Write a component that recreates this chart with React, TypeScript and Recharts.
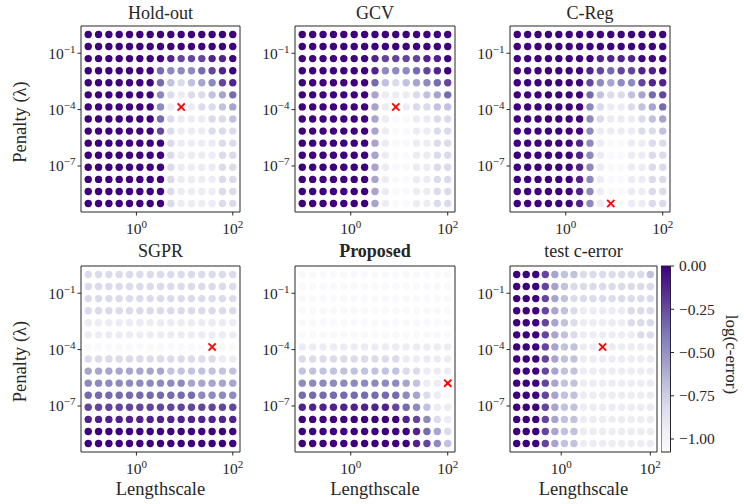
import React from "react";
import { ScatterChart, Scatter, XAxis, YAxis, ReferenceArea, ComposedChart } from "recharts";

// ---------- data ----------
const LENGTHSCALES = [0.1, 0.1638, 0.2683, 0.4394, 0.7197, 1.179, 1.931, 3.162, 5.179, 8.483, 13.89, 22.76, 37.28, 61.05, 100];
// top row first (largest penalty)
const PENALTIES = [1, 0.2276, 0.05179, 0.01179, 2.683e-3, 6.105e-4, 1.389e-4, 3.162e-5, 7.197e-6, 1.638e-6, 3.728e-7, 8.483e-8, 1.931e-8, 4.394e-9, 1e-9];
const X_TICKS = [1, 100];
const Y_TICKS = [1e-1, 1e-4, 1e-7];
const CBAR_TICKS = [0, -0.25, -0.5, -0.75, -1];
const X_DOMAIN = [0.0708, 141.3];
const Y_DOMAIN = [3.548e-10, 2.818];
const VMIN = -1.075;
const VMAX = 0;

// intensity level per cell (0 = lightest .. 9 = darkest), rows top->bottom, cols left->right
const HOLDOUT_LEVELS = [
  "999999999999999",
  "999999999999999",
  "999999998777889",
  "999999965556789",
  "999999963234578",
  "999999952122346",
  "999999951112234",
  "999999962111223",
  "999999972111222",
  "999999992111122",
  "999999992111122",
  "999999992111122",
  "999999992111122",
  "999999992111122",
  "999999992111122",
];
const GCV_LEVELS = [
  "999999999999999",
  "999999999999999",
  "999999987777889",
  "999999985556789",
  "999999963234567",
  "999999941112346",
  "999999941012233",
  "999999941001122",
  "999999941001122",
  "999999941001122",
  "999999941001122",
  "999999941001122",
  "999999941001122",
  "999999941001122",
  "999999941001122",
];
const CREG_LEVELS = [
  "999999999999999",
  "999999999999999",
  "999999998888999",
  "999999987677889",
  "999999975455788",
  "999999963223467",
  "999999952112346",
  "999999952111234",
  "999999951111223",
  "999999851001122",
  "999999851001122",
  "999999851001122",
  "999999851001122",
  "999999851001122",
  "999999851001122",
];
const SGPR_LEVELS = [
  "222222222222222",
  "222222222222222",
  "222222222222222",
  "222222222222222",
  "111111111111111",
  "111111111111111",
  "000000000000000",
  "222222222222211",
  "444444443333333",
  "555555555544444",
  "666666666665555",
  "777777777777777",
  "888888888888888",
  "999999999999999",
  "999999999999999",
];
const PROPOSED_LEVELS = [
  "000000000000000",
  "000000000000000",
  "000000000000000",
  "000000000000000",
  "000000000000000",
  "000000000000000",
  "111111111111111",
  "222222222211111",
  "333333333322111",
  "555555555543111",
  "666666666654210",
  "888888888765311",
  "999999999987521",
  "999999999998642",
  "999999999998753",
];
const TEST_LEVELS = [
  "999743322222223",
  "999743222222222",
  "999743222222222",
  "999743211111222",
  "999743211111222",
  "999743211111122",
  "999743311111111",
  "999743311111111",
  "999743311111111",
  "999743311111111",
  "999743311111111",
  "999743311111111",
  "999743311111111",
  "999743311111111",
  "999743311111111",
];

const HOLDOUT_BEST = [{ x: 8.483, y: 1.389e-4 }];
const GCV_BEST = [{ x: 8.483, y: 1.389e-4 }];
const CREG_BEST = [{ x: 8.483, y: 1e-9 }];
const SGPR_BEST = [{ x: 37.28, y: 1.389e-4 }];
const PROPOSED_BEST = [{ x: 100, y: 1.638e-6 }];
const TEST_BEST = [{ x: 8.483, y: 1.389e-4 }];

// ---------- styling helpers ----------
const FONT = "'Liberation Serif', 'DejaVu Serif', serif";
const INK = "#262626";
const PURPLES = ["#fcfbfd", "#efedf5", "#dadaeb", "#bcbddc", "#9e9ac8", "#807dba", "#6a51a3", "#54278f", "#3f007d"];

function hexToRgb(h: string) {
  return [parseInt(h.slice(1, 3), 16), parseInt(h.slice(3, 5), 16), parseInt(h.slice(5, 7), 16)];
}
function purples(t: number) {
  const tt = Math.max(0, Math.min(1, t));
  const s = tt * 8;
  const i = Math.min(7, Math.floor(s));
  const f = s - i;
  const a = hexToRgb(PURPLES[i]);
  const b = hexToRgb(PURPLES[i + 1]);
  const c = a.map((v, k) => Math.round(v + (b[k] - v) * f));
  return `rgb(${c[0]},${c[1]},${c[2]})`;
}
function levelToValue(d: number) {
  return VMIN + (0.03 + (d * 0.97) / 9) * (VMAX - VMIN);
}
function buildCells(levels: string[]) {
  const out: any[] = [];
  levels.forEach((row, r) => {
    row.split("").forEach((ch, c) => {
      const v = levelToValue(Number(ch));
      out.push({ x: LENGTHSCALES[c], y: PENALTIES[r], v, color: purples((v - VMIN) / (VMAX - VMIN)) });
    });
  });
  return out;
}

function powLabel(v: number) {
  const e = Math.round(Math.log10(v));
  return e < 0 ? "\u2212" + Math.abs(e) : String(e);
}

const XTick = (props: any) => {
  const { x, y, payload } = props;
  return (
    <text x={x} y={y + 16.5} textAnchor="middle" fontFamily={FONT} fontSize={15.5} fill={INK}>
      10<tspan dy={-6} fontSize={11}>{powLabel(payload.value)}</tspan>
    </text>
  );
};
const YTick = (props: any) => {
  const { x, y, payload } = props;
  return (
    <text x={x} y={y + 5.3} textAnchor="end" fontFamily={FONT} fontSize={15.5} fill={INK}>
      10<tspan dy={-6} fontSize={11}>{powLabel(payload.value)}</tspan>
    </text>
  );
};
const CbarTick = (props: any) => {
  const { x, y, payload } = props;
  const v = payload.value as number;
  const s = (v < 0 ? "\u2212" : "") + Math.abs(v).toFixed(2);
  return (
    <text x={x + 3} y={y + 5.3} textAnchor="start" fontFamily={FONT} fontSize={15.5} fill={INK}>
      {s}
    </text>
  );
};

const Dot = (props: any) => {
  const { cx, cy, payload } = props;
  if (cx == null || cy == null) return null;
  return <circle cx={cx} cy={cy} r={3.7} fill={payload.color} />;
};
const Cross = (props: any) => {
  const { cx, cy } = props;
  if (cx == null || cy == null) return null;
  const s = 3.6;
  return (
    <g stroke="#ff0000" strokeWidth={1.8}>
      <line x1={cx - s} y1={cy - s} x2={cx + s} y2={cy + s} />
      <line x1={cx - s} y1={cy + s} x2={cx + s} y2={cy - s} />
    </g>
  );
};

const ML = 80;
const MT = 30;
const MR = 20;
const MB = 60;

function Panel({ left, top, w, h, levels, best }: any) {
  const cells = buildCells(levels);
  const W = w + ML + MR;
  const H = h + MT + MB;
  return (
    <div style={{ position: "absolute", left: left - ML, top: top - MT, width: W, height: H }}>
      <ScatterChart width={W} height={H} margin={{ top: MT, right: MR, bottom: 0, left: 0 }}>
        <XAxis
          type="number"
          dataKey="x"
          scale="log"
          domain={X_DOMAIN}
          allowDataOverflow
          ticks={X_TICKS}
          interval={0}
          tick={<XTick />}
          tickSize={3.5}
          tickLine={{ stroke: INK }}
          axisLine={false}
          height={MB}
        />
        <YAxis
          type="number"
          dataKey="y"
          scale="log"
          domain={Y_DOMAIN}
          allowDataOverflow
          ticks={Y_TICKS}
          interval={0}
          tick={<YTick />}
          tickSize={3.5}
          tickLine={{ stroke: INK }}
          axisLine={false}
          width={ML}
        />
        <Scatter data={cells} shape={<Dot />} isAnimationActive={false} />
        <Scatter data={best} shape={<Cross />} isAnimationActive={false} />
        <ReferenceArea
          x1={X_DOMAIN[0]}
          x2={X_DOMAIN[1]}
          y1={Y_DOMAIN[0]}
          y2={Y_DOMAIN[1]}
          fill="none"
          fillOpacity={0}
          stroke={INK}
          strokeWidth={1}
          ifOverflow="visible"
        />
      </ScatterChart>
    </div>
  );
}

function Colorbar({ left, top, w, h }: any) {
  const AXW = 60;
  const W = w + AXW;
  const H = h + 20;
  return (
    <div style={{ position: "absolute", left, top: top - 10, width: W, height: H }}>
      <ComposedChart width={W} height={H} margin={{ top: 10, right: 0, bottom: 10, left: 0 }} data={[{ a: 0 }]}>
        <defs>
          <linearGradient id="cbarGrad" x1="0" y1="1" x2="0" y2="0">
            {PURPLES.map((c, i) => (
              <stop key={i} offset={`${(i / 8) * 100}%`} stopColor={c} />
            ))}
          </linearGradient>
        </defs>
        <XAxis type="number" dataKey="a" domain={[0, 1]} hide />
        <YAxis
          type="number"
          orientation="right"
          domain={[VMIN, VMAX]}
          allowDataOverflow
          ticks={CBAR_TICKS}
          interval={0}
          tick={<CbarTick />}
          tickSize={3.5}
          tickLine={{ stroke: INK }}
          axisLine={false}
          width={AXW}
        />
        <ReferenceArea x1={0} x2={1} y1={VMIN} y2={VMAX} fill="url(#cbarGrad)" fillOpacity={1} stroke={INK} strokeWidth={1} ifOverflow="visible" />
      </ComposedChart>
    </div>
  );
}

const TITLES = ["Hold-out", "GCV", "C-Reg", "SGPR", "Proposed", "test c-error"];
const X_LABEL = "Lengthscale";
const Y_LABEL = "Penalty (\u03bb)";
const CBAR_LABEL = "log(c-error)";

export default function App() {
  const topY = 26;
  const botY = 265.5;
  const ph = 186;
  const cols = [81, 295, 510];
  const pw = [159, 160, 160];
  const testW = 147;
  const titleX = [cols[0] + pw[0] / 2, cols[1] + pw[1] / 2, cols[2] + pw[2] / 2, cols[0] + pw[0] / 2, cols[1] + pw[1] / 2, cols[2] + testW / 2];
  const textStyle: any = { fontFamily: FONT, fill: INK };
  return (
    <div style={{ position: "absolute", left: 0, top: 0, width: 744, height: 504, background: "#fff", overflow: "hidden" }}>
      <Panel left={cols[0]} top={topY} w={pw[0]} h={ph} levels={HOLDOUT_LEVELS} best={HOLDOUT_BEST} />
      <Panel left={cols[1]} top={topY} w={pw[1]} h={ph} levels={GCV_LEVELS} best={GCV_BEST} />
      <Panel left={cols[2]} top={topY} w={pw[2]} h={ph} levels={CREG_LEVELS} best={CREG_BEST} />
      <Panel left={cols[0]} top={botY} w={pw[0]} h={ph} levels={SGPR_LEVELS} best={SGPR_BEST} />
      <Panel left={cols[1]} top={botY} w={pw[1]} h={ph} levels={PROPOSED_LEVELS} best={PROPOSED_BEST} />
      <Panel left={cols[2]} top={botY} w={testW} h={ph} levels={TEST_LEVELS} best={TEST_BEST} />
      <Colorbar left={661} top={botY} w={9.5} h={ph} />
      <svg width={744} height={504} style={{ position: "absolute", left: 0, top: 0, pointerEvents: "none" }}>
        {TITLES.map((t, i) => (
          <text
            key={t}
            x={titleX[i]}
            y={i < 3 ? 18.5 : 257}
            textAnchor="middle"
            fontSize={18}
            fontWeight={t === "Proposed" ? "bold" : "normal"}
            {...textStyle}
          >
            {t}
          </text>
        ))}
        {[0, 1, 2].map((i) => (
          <text key={"xl" + i} x={titleX[3 + i]} y={495} textAnchor="middle" fontSize={18.5} {...textStyle}>
            {X_LABEL}
          </text>
        ))}
        {[topY + ph / 2 + 3, botY + ph / 2 + 3].map((cy, i) => (
          <text key={"yl" + i} x={0} y={0} transform={`translate(26,${cy}) rotate(-90)`} textAnchor="middle" fontSize={18.5} {...textStyle}>
            {Y_LABEL}
          </text>
        ))}
        <text x={0} y={0} transform={`translate(726,${botY + ph / 2 - 4}) rotate(90)`} textAnchor="middle" fontSize={17} {...textStyle}>
          {CBAR_LABEL}
        </text>
      </svg>
    </div>
  );
}
